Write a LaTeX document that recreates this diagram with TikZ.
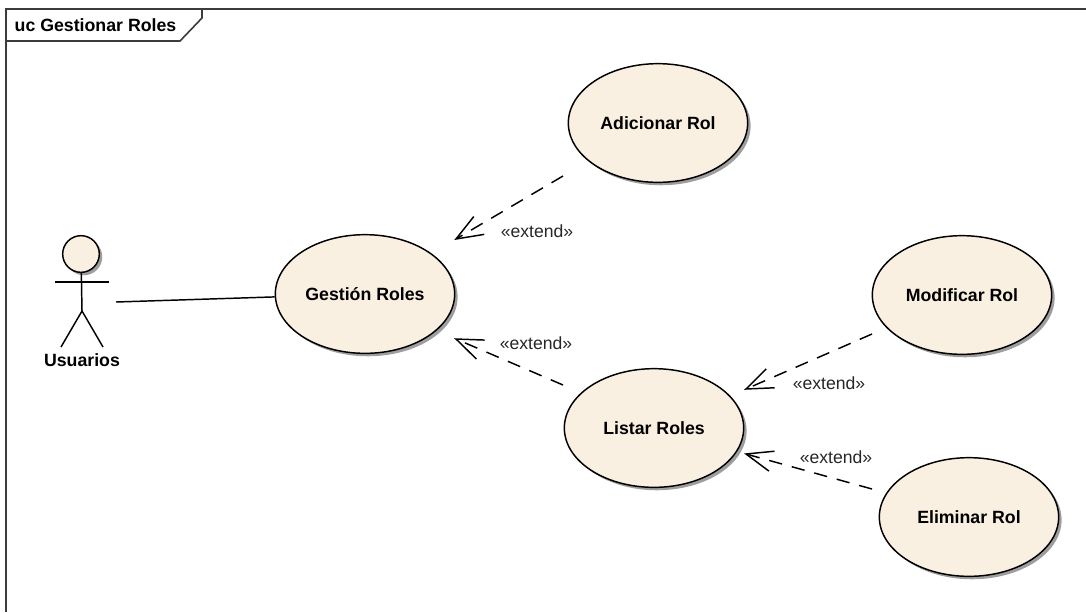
\documentclass[tikz,border=0pt]{standalone}
\usepackage{fontspec}
\setmainfont{Liberation Sans}
\usetikzlibrary{arrows.meta, positioning, shadows, shapes.geometric}
\definecolor{colUC}{RGB}{250, 240, 226}
\definecolor{colFrame}{RGB}{60, 60, 60}
\tikzset{
    softshadow/.style={drop shadow={shadow xshift=2.2pt, shadow yshift=-2.2pt, fill=black!38, opacity=1}},
    usecase/.style={ellipse, draw=black, line width=1.1pt, fill=colUC, minimum width=134.5pt, minimum height=89pt, inner sep=0pt,
        font=\fontsize{13.3pt}{15pt}\selectfont\bfseries, softshadow},
    actorline/.style={line width=1.1pt},
    extendline/.style={line width=1.1pt, dash pattern=on 10pt off 7.5pt, shorten >=-1.5pt, -{Straight Barb[length=20pt,width=15.5pt,harpoon=false,line width=1.1pt]}},
    stereo/.style={font=\fontsize{13.2pt}{15pt}\selectfont, text=black!85}
}
\begin{document}
\begin{tikzpicture}[x=0.75pt, y=-0.75pt]
    \useasboundingbox (0, 0) rectangle (1086, 612);
    % --- Bingkai ---
    \draw[colFrame, line width=1.2pt] (6, 612) -- (6, 9) -- (1086, 9);
    \draw[colFrame, line width=1.2pt] (6, 41) -- (180, 41) -- (202, 18) -- (202, 9);
    \node[inner sep=0pt, font=\fontsize{13.3pt}{15pt}\selectfont\bfseries] (title) at (95.5, 25) {uc Gestionar Roles};

    % --- Use case ---
    \node[usecase] (adicionar) at (658, 123) {Adicionar Rol};
    \node[usecase] (gestion) at (365, 294) {Gestión Roles};
    \node[usecase] (listar) at (654, 428) {Listar Roles};
    \node[usecase] (modificar) at (962, 295) {Modificar Rol};
    \node[usecase] (eliminar) at (969, 517) {Eliminar Rol};

    % --- Actor ---
    \node[circle, draw=black, line width=1.1pt, fill=colUC, minimum size=27.5pt, inner sep=0pt, softshadow] (kepala) at (81, 254) {};
    \coordinate (pinggul) at (82, 311);
    \coordinate (tanganL) at (55, 282);
    \coordinate (tanganR) at (109, 282);
    \coordinate (kakiL) at (61, 347);
    \coordinate (kakiR) at (103, 347);
    \draw[actorline] (kepala) -- (pinggul);
    \draw[actorline] (tanganL) -- (tanganR);
    \draw[actorline] (kakiL) -- (pinggul) -- (kakiR);
    \node[inner sep=0pt, font=\fontsize{13.3pt}{15pt}\selectfont\bfseries] (usuarios) at (82, 360) {Usuarios};
    \coordinate (aktor) at (116, 302);

    % --- Garis ---
    \draw[actorline] (aktor) -- (gestion);
    \coordinate (a1) at (563, 176);
    \coordinate (a2) at (456, 239);
    \coordinate (l1) at (563, 385);
    \coordinate (l2) at (456, 339);
    \coordinate (m1) at (872, 334);
    \coordinate (m2) at (746, 389);
    \coordinate (e1) at (872, 489);
    \coordinate (e2) at (746, 454);
    \draw[extendline] (a1) -- (a2);
    \draw[extendline] (l1) -- (l2);
    \draw[extendline] (m1) -- (m2);
    \draw[extendline] (e1) -- (e2);

    % --- Label ---
    \node[stereo] (ext1) at (537, 231) {«extend»};
    \node[stereo] (ext2) at (536, 343) {«extend»};
    \node[stereo] (ext3) at (829, 383) {«extend»};
    \node[stereo] (ext4) at (836, 457) {«extend»};
\end{tikzpicture}
\end{document}
